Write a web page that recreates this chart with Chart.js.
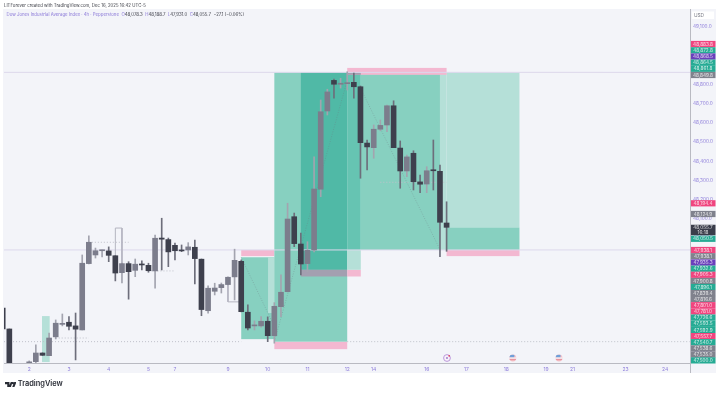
<!DOCTYPE html>
<html><head><meta charset="utf-8">
<style>
html,body{margin:0;padding:0;background:#fff;width:720px;height:395px;overflow:hidden;font-family:Inter,"Liberation Sans",sans-serif}
#panel{position:absolute;left:3px;top:9px;width:713px;height:364px;background:#f3f4f9}
canvas{position:absolute;left:0;top:0}
.t{position:absolute;white-space:pre;line-height:1}
#l1{left:4px;top:3.5px;font-size:4.35px;color:#3b3d45}
#l2{left:6.5px;top:13px;font-size:4.35px;color:#8a78d8}
#l2 b{font-weight:400;color:#3a3c46}
#tv{left:17.7px;top:380px;font-size:7.4px;font-weight:600;color:#2a2d36}
#logo{position:absolute;left:4.5px;top:381.5px}
</style></head><body>
<div id="panel"></div>
<canvas id="c" width="720" height="395"></canvas>
<div class="t" id="l1">LITForever created with TradingView.com, Dec 16, 2025 16:42 UTC-5</div>
<div class="t" id="l2">Dow Jones Industrial Average Index · 4h · Pepperstone  O<b>48,078.3</b>  H<b>48,188.7</b>  L<b>47,931.0</b>  C<b>48,055.7</b>  <b>−27.1 (−0.06%)</b></div>
<svg id="logo" width="11.5" height="5.5" viewBox="0 0 36 17"><path fill="#2a2d36" d="M0 0h14v17H7V7H0zM18 0h6l-6 17H11zM25 0a3.5 3.5 0 1 1 0 7 3.5 3.5 0 0 1 0-7zM29 0h7l-7 17h-7z"/></svg>
<div class="t" id="tv">TradingView</div>
<script src="https://cdn.jsdelivr.net/npm/chart.js@4/dist/chart.umd.js"></script>
<script>
const candleIndex=[-1,0,3,4,5,6,7,8,9,10,11,12,13,14,15,16,17,18,19,20,21,22,23,24,25,26,27,28,29,30,31,32,33,34,35,36,37,38,39,40,41,42,43,44,45,46,47,48,49,50,51,52,53,54,55,56,57,58,59,60,61,62,63,64,65,66];
const opens =[47636,47527,47335,47357,47402,47388,47486,47551,47562,47543,47522,47867,47912,47934,47933,47908,47820,47867,47832,47865,47858,47829,48000,47992,47962,47936,47938,47952,47890,47622,47723,47742,47758,47798,47879,47614,47543,47543,47567,47492,47643,47721,48111,47969,47867,47938,48254,48661,48820,48800,48803,48810,48787,48494,48470,48566,48588,48688,48468,48349,48441,48292,48281,48354,48347,48078.3];
const highs =[47640,47527,47361,47444,47403,47506,47574,47605,47591,47610,47912,48011,47948,47938,47954,47908,47870,47877,47891,47882,47869,48016,48103,48000,47974,47964,47976,47990,47891,47751,47765,47766,47798,47942,47886,47652,47569,47591,47590,47664,47808,48181,48130,48026,47981,48423,48718,48774,48827,48831,48865,48858,48791,48510,48588,48614,48692,48714,48505,48432,48454,48328,48371,48510,48380,48188.7];
const lows  =[47527,47314,47320,47345,47389,47388,47475,47543,47522,47366,47522,47865,47896,47902,47877,47777,47766,47682,47799,47834,47822,47739,47834,47851,47886,47929,47912,47761,47596,47609,47704,47714,47756,47678,47616,47522,47522,47536,47461,47453,47591,47720,47955,47808,47825,47928,48215,48640,48728,48780,48770,48728,48311,48354,48415,48558,48553,48470,48259,48319,48250,48236,48236,48250,47903,47931];
const closes=[47527,47314,47356,47402,47390,47480,47557,47556,47541,47526,47869,47978,47934,47937,47910,47818,47867,47825,47864,47860,47830,47999,47994,47928,47934,47933,47954,47893,47628,47739,47740,47758,47796,47884,47617,47532,47548,47567,47492,47645,47718,48099,47971,47865,47936,48255,48657,48760,48800,48804,48808,48787,48496,48474,48566,48586,48688,48470,48349,48422,48293,48280,48350,48350,48082,48055.7];
const priceTicks=[47400,47500,47600,47700,47800,47900,48000,48100,48200,48300,48400,48500,48600,48700,48800,49100];
const dayLabels=["2","3","4","5","7","9","10","11","12","14","16","17","18","19","21","23","24"];
const dayIndex=[3,9,15,21,25,33,39,45,51,55,63,69,75,81,85,93,99];
const levelPrices=[48861.8,47938.1];
const dottedLevels=[[-0.8,47461,35,47461],[51,47461,102.7,47461],[12,47978,18,47978],[7,47480,12,47480],[21,47829,25,47829],[56,48290,66,48290]];
const tradePaths=[[35,47900,40,47540],[40,47460,51,48820],[53,48780,65,47940]];
const bracketPaths=[[[16,47860],[16,48052],[17,48052],[17,47860]],[[33,47760],[33,47668],[35,47668]]];
// zones: first index, last index, low price, high price, tone
const zones=[
[4.93,6.09,47355,47594,"pale"],
[35,40,47906,47938,"pink"],
[40,51,47422,47461,"pink"],
[35,40,47474,47900,"teal"],
[39.05,40,47610,47900,"pale"],
[40,51,47461,48861,"teal"],
[44,51,47835,48861,"deep"],
[44,51,47800,47835,"greyed"],
[51,53.05,47800,47835,"pink"],
[51,53.05,47835,47938,"pale"],
[51,53.05,47938,48861,"mid"],
[53.05,65,47938,48861,"teal"],
[65,66,47938,48861,"pale"],
[66,77,48055,48861,"pale"],
[66,77,47938,48055,"teal"],
[66,77,47906,47938,"pink"],
[51,66,48849,48885,"pink"],
[51,53.05,48849,48861,"greyed"]
];
const tagTexts=["48,883.8","48,872.8","48,868.5","48,864.5","48,861.8","48,849.8","48,194.4","48,124.9","48,055.7","48,050.5","47,938.1","47,938.1","47,935.3","47,932.6","47,905.3","47,900.8","47,896.1","47,839.4","47,816.6","47,801.0","47,781.0","47,726.6","47,593.5","47,592.9","47,557.7","47,540.7","47,538.6","47,535.0","47,500.0"];
const tagKinds=["pink","green","purple","green","green","gray","pink","gray","dark","green","pink","gray","purple","green","pink","gray","green","gray","gray","pink","pink","green","green","green","pink","green","gray","gray","green"];
const eventIndex=[66.06,76,82.97];
const eventKinds=["earn","us","us"];

const TONES={teal:"#87d0c0",pale:"#b5e0d8",deep:"#50b9a6",mid:"#66c4b2",pink:"#f3b8d1",greyed:"#a39fb0"};
const TAGC={pink:"#f0457f",green:"#26ab94",purple:"#6a3fbb",gray:"#80828d",dark:"#3a3d4a"};
const TAG_SLOTS=[44,50.3,56.5,62.7,68.8,75,203.3,214,230,238.8,250,256.2,262.5,268.7,274.8,281,287,293,299,305.2,311.4,317.6,323.8,330,336.1,342.2,348.4,354.5,360.4];
const PURPLE="#8f7fdb",UP="#7c7d8c",DOWN="#3e404d";
const up=i=>closes[i]>=opens[i];

const paint={id:"paint",
 beforeDatasetsDraw(ch){const {ctx,chartArea:a,scales:{x,y}}=ch;ctx.save();ctx.beginPath();ctx.rect(a.left,a.top,a.right-a.left,a.bottom-a.top);ctx.clip();
  zones.forEach(([x0,x1,lo,hi,t])=>{ctx.fillStyle=TONES[t];const L=x.getPixelForValue(x0),R=x.getPixelForValue(x1),T=y.getPixelForValue(hi),B=y.getPixelForValue(lo);ctx.fillRect(L,T,R-L,B-T);});
  ctx.restore();},
 afterDraw(ch){const {ctx,chartArea:a,scales:{x,y}}=ch;ctx.save();
  ctx.strokeStyle="#b9bac2";ctx.lineWidth=1;ctx.beginPath();ctx.moveTo(a.right+.5,9);ctx.lineTo(a.right+.5,373);ctx.moveTo(a.left,a.bottom+.5);ctx.lineTo(a.right,a.bottom+.5);ctx.stroke();
  eventIndex.forEach((v,i)=>{const px=x.getPixelForValue(v),py=358;ctx.beginPath();ctx.arc(px,py,3.4,0,7);
    if(eventKinds[i]==="earn"){ctx.fillStyle="#f7f2fa";ctx.fill();ctx.strokeStyle="#b58fd8";ctx.lineWidth=.9;ctx.stroke();ctx.fillStyle="#9a6fc8";ctx.beginPath();ctx.arc(px,py,.9,0,7);ctx.fill();ctx.fillStyle="#e0405f";ctx.beginPath();ctx.arc(px+2.2,py-2.2,.9,0,7);ctx.fill();}
    else{ctx.save();ctx.clip();ctx.fillStyle="#f5c2c8";ctx.fillRect(px-4,py-4,8,8);ctx.fillStyle="#f4f4f8";ctx.fillRect(px-4,py-.6,8,1.2);ctx.fillStyle="#e58a97";ctx.fillRect(px-4,py+1.2,8,1);ctx.fillStyle="#6f9fd8";ctx.fillRect(px-4,py-3.4,5.5,2.6);ctx.restore();}
  });
  ctx.fillStyle="#fff";ctx.fillRect(692,11.5,22,7.5);ctx.fillStyle="#7b7d88";ctx.font="4.8px Inter";ctx.textAlign="center";ctx.textBaseline="middle";ctx.fillText("USD",699,15.5);
  tagTexts.forEach((s,i)=>{const k=tagKinds[i],c=TAG_SLOTS[i],h=k==="dark"?10.5:6.2;ctx.fillStyle=TAGC[k];ctx.fillRect(691,c-h/2,24.5,h);ctx.fillStyle="rgba(255,255,255,.8)";ctx.font="4.7px Inter";ctx.textAlign="center";
    if(k==="dark"){ctx.fillText(s,703,c-2.3);ctx.fillText("16:18",703,c+2.6);}else ctx.fillText(s,703,c+.2);});
  ctx.restore();}
};
const lineDs=(p,extra)=>Object.assign({type:"line",data:p,pointRadius:0,borderWidth:1,order:5,fill:false},extra);
const datasets=[
 {type:"bar",label:"body",data:candleIndex.map((u,i)=>({x:u,y:[opens[i],closes[i]]})),backgroundColor:candleIndex.map((u,i)=>up(i)?UP:DOWN),barThickness:5,grouped:false,order:1,borderSkipped:false,minBarLength:1},
 {type:"bar",label:"wick",data:candleIndex.map((u,i)=>({x:u,y:[lows[i],highs[i]]})),backgroundColor:candleIndex.map((u,i)=>up(i)?"#a3a4af":"#6d6e7b"),barThickness:1,grouped:false,order:2},
 ...levelPrices.map(p=>lineDs([{x:-0.8,y:p},{x:102.74,y:p}],{borderColor:"#dcd8ec"})),
 ...dottedLevels.map(d=>lineDs([{x:d[0],y:d[1]},{x:d[2],y:d[3]}],{borderColor:"#bfc0ca",borderDash:[1,2]})),
 ...tradePaths.map(d=>lineDs([{x:d[0],y:d[1]},{x:d[2],y:d[3]}],{borderColor:"rgba(110,120,130,.35)",borderDash:[1,1.5],order:3})),
 ...bracketPaths.map(p=>lineDs(p.map(q=>({x:q[0],y:q[1]})),{borderColor:"#b4b5c0",order:3}))
];
new Chart(document.getElementById("c"),{
 data:{datasets},
 plugins:[paint],
 options:{responsive:false,animation:false,events:[],
  layout:{padding:{left:4,top:11,right:4,bottom:21}},
  plugins:{legend:{display:false},tooltip:{enabled:false}},
  scales:{
   x:{type:"linear",offset:false,min:-0.805,max:102.74,grid:{display:false,offset:false,drawTicks:false},border:{display:false},
      afterFit(s){s.height=11;s.paddingLeft=0;s.paddingRight=0;},
      afterBuildTicks(s){s.ticks=dayIndex.map(v=>({value:v}));},
      ticks:{autoSkip:false,maxRotation:0,padding:3,color:PURPLE,font:{size:5,family:"Inter"},callback:(v)=>dayLabels[dayIndex.indexOf(v)]}},
   y:{type:"linear",position:"right",min:47350,max:49181,grid:{display:false,drawTicks:false},border:{display:false},
      afterFit(s){s.width=26;s.paddingTop=0;s.paddingBottom=0;},
      afterBuildTicks(s){s.ticks=priceTicks.map(v=>({value:v}));},
      ticks:{autoSkip:false,padding:3,color:PURPLE,font:{size:4.7,family:"Inter"},callback:v=>v.toLocaleString("en-US",{minimumFractionDigits:1,maximumFractionDigits:1})}}
  }}
});
</script>
</body></html>
